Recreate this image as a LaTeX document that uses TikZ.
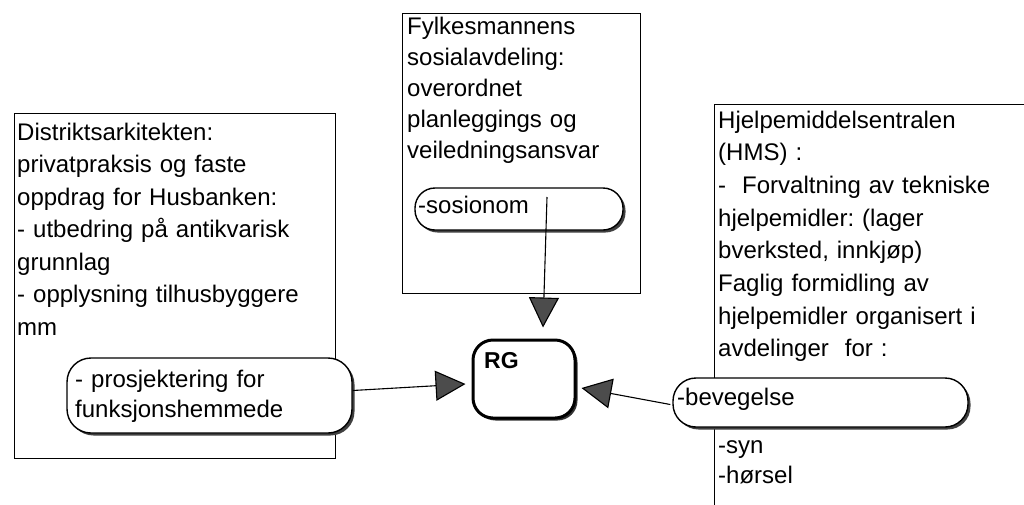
\documentclass[tikz,border=0pt]{standalone}
\usepackage{fontspec}
\setmainfont{Liberation Sans}
\usetikzlibrary{arrows.meta,shadows,calc}
\frenchspacing
\begin{document}
\begin{tikzpicture}[x=1pt,y=-1pt,
  box/.style={draw=black, line width=1.2pt, inner sep=0pt, anchor=north west},
  pill/.style={draw=black, fill=white, line width=1.4pt, inner sep=0pt, rounded corners=21pt,
    drop shadow={shadow xshift=2.5pt, shadow yshift=-2.5pt, fill=black!75, opacity=1}},
  rgbox/.style={draw=black, fill=white, line width=3pt, inner sep=0pt, rounded corners=20pt,
    drop shadow={shadow xshift=2.5pt, shadow yshift=-2.5pt, fill=black!80, opacity=1}},
  txt/.style={inner sep=0pt, anchor=base west, align=left, text width=#1},
  txt/.default=330pt,
  conn/.style={draw=black, line width=1.1pt, -{Triangle[length=30pt,width=30pt,fill=black!70]}},
  every node/.style={font=\frenchspacing\fontsize{24}{32.5}\selectfont}
]
\useasboundingbox (0,0) rectangle (1024,504);
\clip (0,0) rectangle (1024,504);
\fill[white] (0,0) rectangle (1024,504);

% boxes
\node[box, minimum width=321pt, minimum height=345pt] (lbox) at (14,113) {};
\node[box, minimum width=238pt, minimum height=280pt] (tbox) at (402,13) {};
\node[box, minimum width=330pt, minimum height=420pt] (rbox) at (714,104) {};

% box texts
\node[txt] (ltext) at (17,140) {Distriktsarkitekten:\\privatpraksis og faste\\oppdrag for Husbanken:\\- utbedring på antikvarisk\\grunnlag\\- opplysning tilhusbyggere\\mm};
\node[txt, font=\frenchspacing\fontsize{24}{31}\selectfont] (ttext) at (407,34) {Fylkesmannens\\sosialavdeling:\\overordnet\\planleggings og\\veiledningsansvar};
\node[txt, font=\frenchspacing\fontsize{24}{32.7}\selectfont] (rtext) at (718,128) {Hjelpemiddelsentralen\\(HMS) :\\-\ \ Forvaltning av tekniske\\hjelpemidler: (lager\\bverksted, innkjøp)\\Faglig formidling av\\hjelpemidler organisert i\\avdelinger\ \ for :};
\node[txt, font=\frenchspacing\fontsize{24}{30}\selectfont] (rtext2) at (718,453) {-syn\\-hørsel};

% pills
\node[pill, minimum width=285pt, minimum height=75pt, rounded corners=24pt] (lp) at (209.5,395.5) {};
\node[txt, font=\frenchspacing\fontsize{24}{30}\selectfont] (lptext) at (75,387) {- prosjektering for\\funksjonshemmede};
\node[pill, minimum width=208pt, minimum height=42pt, rounded corners=20pt] (sp) at (519,209) {};
\node[txt] (sptext) at (418,213) {-sosionom};
\node[pill, minimum width=295pt, minimum height=49pt, rounded corners=23pt] (bp) at (820.5,402.5) {};
\node[txt] (bptext) at (677,405) {-bevegelse};

% RG
\node[rgbox, minimum width=102pt, minimum height=78pt] (rg) at (524,379) {};
\node[txt, font=\fontsize{23}{26}\selectfont\bfseries] (rgtext) at (484,368) {RG};

% connector ends
\coordinate (s1) at (547,197);
\coordinate (tipT) at ($(rg.north)+(19,-11)$);
\coordinate (tipL) at ($(rg.west)+(-6,5)$);
\coordinate (tipR) at ($(rg.east)+(5,9)$);

\draw[conn] (s1) -- (tipT);
\draw[conn] ($(lp.east)+(0,-5)$) -- (tipL);
\draw[conn] ($(bp.west)+(-2,2)$) -- (tipR);
\end{tikzpicture}
\end{document}
